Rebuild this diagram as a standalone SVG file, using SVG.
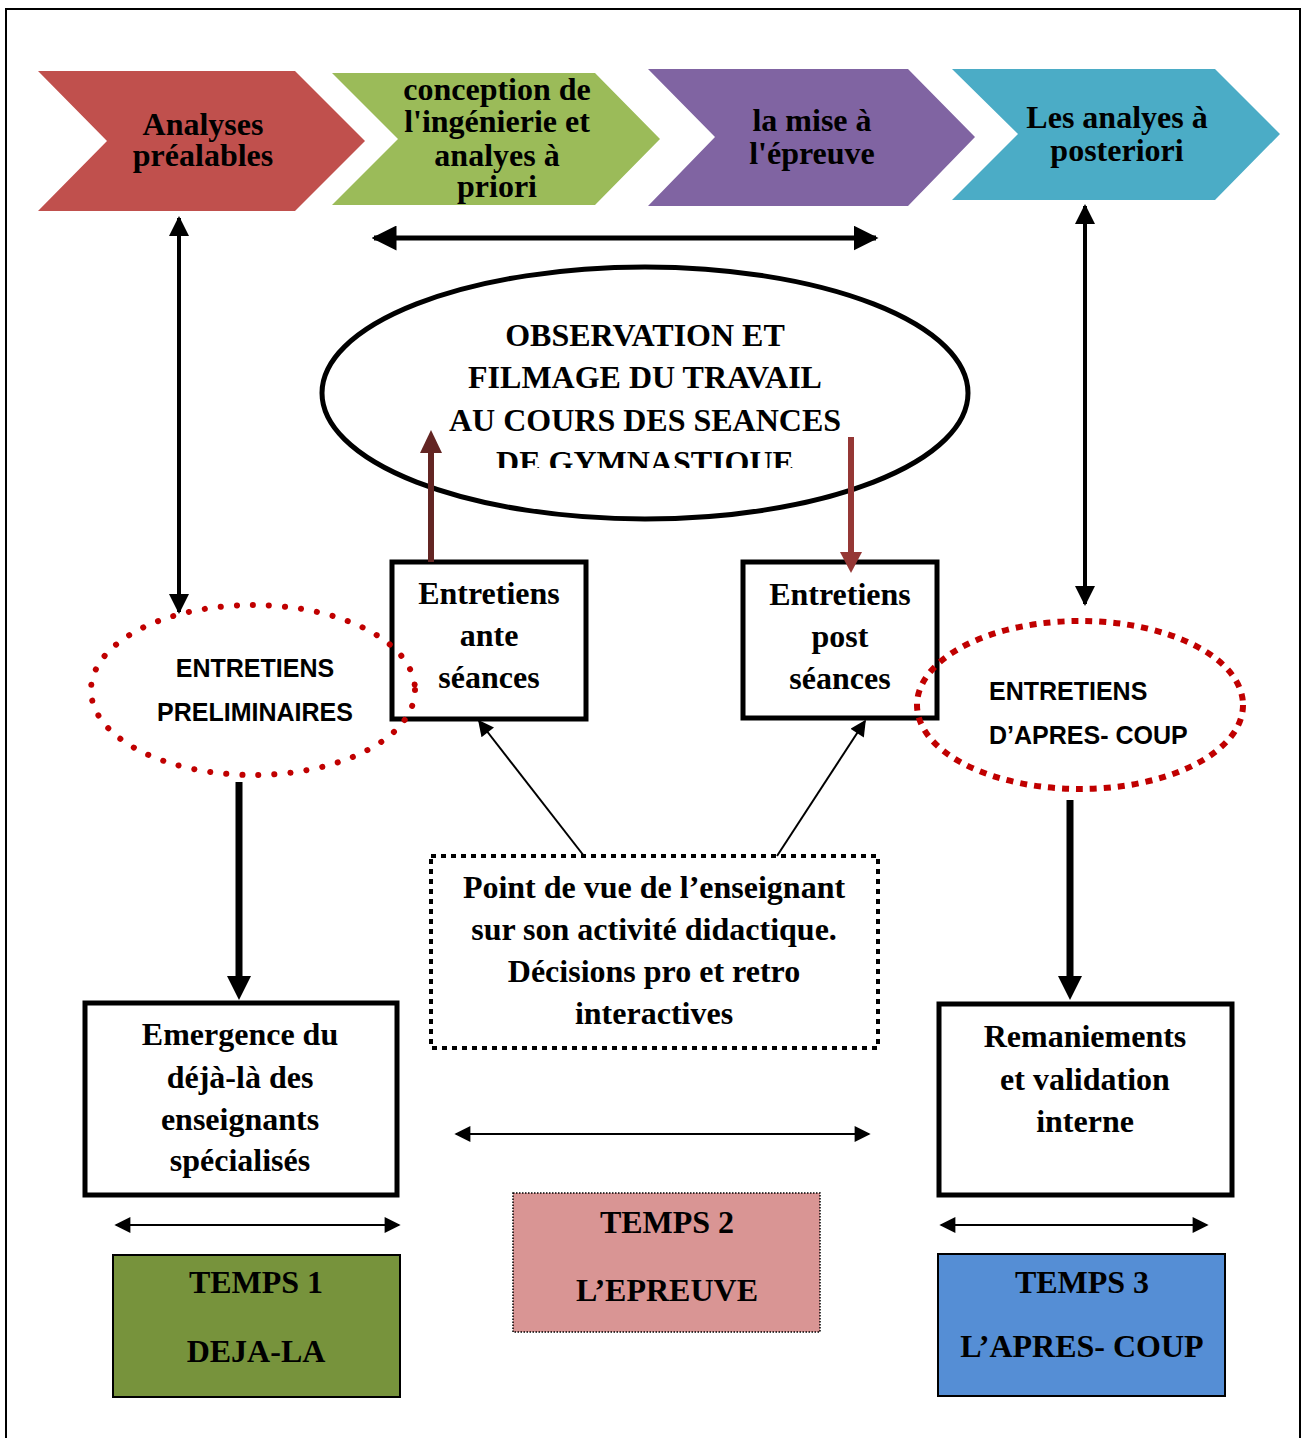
<svg xmlns="http://www.w3.org/2000/svg" width="1305" height="1438" viewBox="0 0 1305 1438">
<style>
.t{font-family:"Liberation Serif","Times New Roman",serif;font-weight:bold;fill:#000;text-anchor:middle;font-size:32px}
.s{font-family:"Liberation Sans",Arial,sans-serif;font-weight:bold;fill:#000;font-size:25px}
.box{fill:#fff;stroke:#000;stroke-width:5}
.conn{stroke:#000;fill:none}
</style>
<defs>
<marker id="ah" viewBox="0 0 10 10" refX="9" refY="5" markerWidth="5" markerHeight="5" orient="auto-start-reverse" markerUnits="strokeWidth"><path d="M0,0 L10,5 L0,10 z" fill="#000"/></marker>
<marker id="ahThin" viewBox="0 0 10 10" refX="9" refY="5" markerWidth="9" markerHeight="8" orient="auto-start-reverse" markerUnits="strokeWidth"><path d="M0,0 L10,5 L0,10 z" fill="#000"/></marker>
<clipPath id="ellClip"><rect x="300" y="260" width="700" height="208"/></clipPath>
</defs>
<rect x="6" y="9" width="1294" height="1440" fill="#fff" stroke="#000" stroke-width="2"/>

<g id="chevron1"><polygon points="38,71 295,71 365,141 295,211 38,211 107,141" fill="#C0504D"/>
<text class="t"><tspan x="203" y="135">Analyses</tspan><tspan x="203" y="166">préalables</tspan></text></g>
<g id="chevron2"><polygon points="332,73 595,73 660,139 595,205 332,205 398,139" fill="#9BBB59"/>
<text class="t"><tspan x="497" y="100">conception de</tspan><tspan x="497" y="132">l'ingénierie et</tspan><tspan x="497" y="166">analyes à</tspan><tspan x="497" y="197">priori</tspan></text></g>
<g id="chevron3"><polygon points="648,69 908,69 975,137 908,206 648,206 715,137" fill="#8064A2"/>
<text class="t"><tspan x="812" y="131">la mise à</tspan><tspan x="812" y="164">l'épreuve</tspan></text></g>
<g id="chevron4"><polygon points="952,69 1215,69 1280,134 1215,200 952,200 1018,134" fill="#4BACC6"/>
<text class="t"><tspan x="1117" y="128">Les analyes à</tspan><tspan x="1117" y="161">posteriori</tspan></text></g>

<g id="observation"><ellipse cx="645" cy="393" rx="323" ry="126" fill="#fff" stroke="#000" stroke-width="5"/>
<text class="t" clip-path="url(#ellClip)"><tspan x="645" y="346">OBSERVATION ET</tspan><tspan x="645" y="388">FILMAGE DU TRAVAIL</tspan><tspan x="645" y="431">AU COURS DES SEANCES</tspan><tspan x="645" y="473">DE GYMNASTIQUE</tspan></text></g>

<g id="ante"><rect class="box" x="392" y="562" width="194" height="157"/>
<text class="t"><tspan x="489" y="604">Entretiens</tspan><tspan x="489" y="646">ante</tspan><tspan x="489" y="688">séances</tspan></text></g>
<g id="post"><rect class="box" x="743" y="562" width="194" height="156"/>
<text class="t"><tspan x="840" y="605">Entretiens</tspan><tspan x="840" y="647">post</tspan><tspan x="840" y="689">séances</tspan></text></g>

<g id="preliminaires"><ellipse cx="253" cy="690" rx="162" ry="85" fill="none" stroke="#C00000" stroke-width="6" stroke-linecap="round" stroke-dasharray="0.1 16"/>
<text class="s" text-anchor="middle"><tspan x="255" y="677">ENTRETIENS</tspan><tspan x="255" y="721">PRELIMINAIRES</tspan></text></g>
<g id="apres"><ellipse cx="1080" cy="705" rx="163" ry="84" fill="none" stroke="#C00000" stroke-width="6" stroke-dasharray="7 7"/>
<text class="s"><tspan x="989" y="700">ENTRETIENS</tspan><tspan x="989" y="744">D’APRES- COUP</tspan></text></g>

<g id="pointdevue"><rect x="431" y="856" width="447" height="192" fill="#fff" stroke="#000" stroke-width="4" stroke-dasharray="5 5"/>
<text class="t"><tspan x="654" y="898">Point de vue de l’enseignant</tspan><tspan x="654" y="940">sur son activité didactique.</tspan><tspan x="654" y="982">Décisions pro et retro</tspan><tspan x="654" y="1024">interactives</tspan></text></g>

<g id="emergence"><rect class="box" x="85" y="1003" width="312" height="192"/>
<text class="t"><tspan x="240" y="1045">Emergence du</tspan><tspan x="240" y="1088">déjà-là des</tspan><tspan x="240" y="1130">enseignants</tspan><tspan x="240" y="1171">spécialisés</tspan></text></g>
<g id="remaniements"><rect class="box" x="939" y="1004" width="293" height="191"/>
<text class="t"><tspan x="1085" y="1047">Remaniements</tspan><tspan x="1085" y="1090">et validation</tspan><tspan x="1085" y="1132">interne</tspan></text></g>

<g id="temps1"><rect x="113" y="1255" width="287" height="142" fill="#77933C" stroke="#000" stroke-width="2"/>
<text class="t"><tspan x="256" y="1293">TEMPS 1</tspan><tspan x="256" y="1362">DEJA-LA</tspan></text></g>
<g id="temps2"><rect x="513" y="1193" width="307" height="139" fill="#D99594" stroke="#000" stroke-width="1.5" stroke-dasharray="1.5 1.5"/>
<text class="t"><tspan x="667" y="1233">TEMPS 2</tspan><tspan x="667" y="1301">L’EPREUVE</tspan></text></g>
<g id="temps3"><rect x="938" y="1254" width="287" height="142" fill="#558ED5" stroke="#000" stroke-width="2"/>
<text class="t"><tspan x="1082" y="1293">TEMPS 3</tspan><tspan x="1082" y="1357">L’APRES- COUP</tspan></text></g>

<g id="connectors">
<line class="conn" x1="374" y1="238" x2="876" y2="238" stroke-width="5" marker-start="url(#ah)" marker-end="url(#ah)"/>
<line class="conn" x1="179" y1="218" x2="179" y2="612" stroke-width="4" marker-start="url(#ah)" marker-end="url(#ah)"/>
<line class="conn" x1="1085" y1="206" x2="1085" y2="604" stroke-width="4" marker-start="url(#ah)" marker-end="url(#ah)"/>
<line x1="431" y1="562" x2="431" y2="452" stroke="#632523" stroke-width="6"/>
<polygon points="420,453 442,453 431,430" fill="#632523"/>
<line x1="851" y1="437" x2="851" y2="553" stroke="#953735" stroke-width="6"/>
<polygon points="840,552 862,552 851,573" fill="#953735"/>
<line class="conn" x1="584" y1="856" x2="479" y2="721" stroke-width="2" marker-end="url(#ahThin)"/>
<line class="conn" x1="777" y1="856" x2="865" y2="721" stroke-width="2" marker-end="url(#ahThin)"/>
<line class="conn" x1="239" y1="782" x2="239" y2="978" stroke-width="7"/>
<polygon points="227,976 251,976 239,1000" fill="#000"/>
<line class="conn" x1="1070" y1="800" x2="1070" y2="978" stroke-width="7"/>
<polygon points="1058,976 1082,976 1070,1000" fill="#000"/>
<line class="conn" x1="456" y1="1134" x2="869" y2="1134" stroke-width="2" marker-start="url(#ahThin)" marker-end="url(#ahThin)"/>
<line class="conn" x1="116" y1="1225" x2="399" y2="1225" stroke-width="2" marker-start="url(#ahThin)" marker-end="url(#ahThin)"/>
<line class="conn" x1="941" y1="1225" x2="1207" y2="1225" stroke-width="2" marker-start="url(#ahThin)" marker-end="url(#ahThin)"/>
</g>
</svg>
